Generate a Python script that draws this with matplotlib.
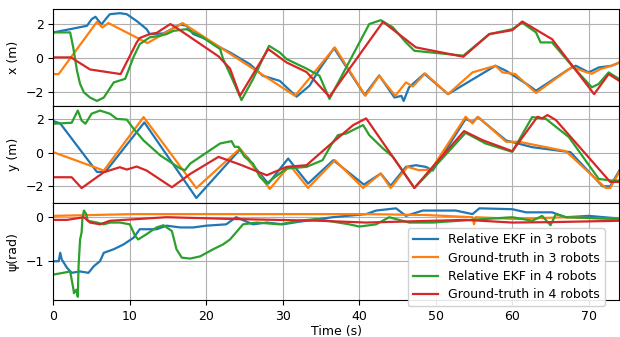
import matplotlib
matplotlib.use("Agg")
import matplotlib.pyplot as plt

labels = ["Relative EKF in 3 robots", "Ground-truth in 3 robots",
          "Relative EKF in 4 robots", "Ground-truth in 4 robots"]

# ---- x (m) ----
x_ekf3_t = [0, 2.2, 4.4, 5.0, 5.5, 6.3, 7.0, 7.4, 8.7, 9.6, 10.9, 12.2, 12.6, 14.4, 16.6, 17.4,
            18.3, 20.0, 21.8, 23.1, 25.7, 27.4, 29.6, 31.8, 33.5, 34.8, 36.7, 40.7, 42.6, 44.6,
            45.5, 45.8, 46.5, 48.5, 51.6, 57.8, 59.2, 62.2, 63.1, 67.4, 68.3, 70.0, 71.3, 73.0, 74]
x_ekf3 = [1.53, 1.72, 1.92, 2.3, 2.45, 2.0, 2.4, 2.6, 2.66, 2.6, 2.2, 1.72, 1.43, 1.47, 2.0, 1.92,
          1.43, 1.13, 0.65, 0.35, -0.34, -1.02, -1.32, -2.25, -1.6, -0.63, 0.6, -2.15, -1.0, -2.3,
          -2.2, -2.5, -1.7, -0.9, -2.1, -0.43, -0.73, -1.6, -1.9, -0.63, -0.43, -0.82, -0.53, -0.43, -0.24]

x_gt3_t = [0, 0.7, 5.7, 6.4, 7.2, 12.3, 16.9, 31.6, 36.8, 40.8, 42.6, 44.7, 46.1, 47.0, 48.6,
           51.6, 54.8, 57.8, 58.7, 60.4, 63.1, 67.8, 69.6, 70.4, 71.5, 73.0, 74]
x_gt3 = [-0.92, -0.92, 2.15, 1.82, 2.08, 0.9, 2.08, -2.2, 0.65, -2.2, -1.02, -2.2, -1.41, -1.65, -0.88,
         -2.1, -0.82, -0.43, -0.82, -0.92, -2.03, -0.5, -0.8, -0.9, -0.63, -0.43, -0.24]

x_ekf4_t = [0, 2.2, 2.6, 3.1, 3.5, 4.0, 4.8, 5.7, 6.6, 7.9, 9.4, 10.5, 11.3, 12.6, 13.9, 14.8, 15.7,
            17.4, 19.2, 21.8, 22.2, 23.5, 24.6, 26.1, 28.2, 29.6, 30.5, 33.1, 34.8, 36.1, 41.3, 42.8,
            44.4, 46.1, 47.2, 49.4, 53.6, 57.0, 60.0, 61.3, 63.1, 63.7, 65.2, 67.8, 70.4, 71.3, 72.6, 74]
x_ekf4 = [1.53, 1.53, 0.65, -0.73, -1.5, -2.0, -2.3, -2.5, -2.3, -1.41, -1.2, 0.1, 0.84, 1.24, 1.33,
          1.43, 1.62, 1.72, 1.33, 0.55, -0.04, -1.32, -2.45, -1.22, 0.74, 0.35, -0.04, -0.6, -1.02,
          -2.38, 2.02, 2.25, 1.82, 0.94, 0.45, 0.35, 0.16, 1.43, 1.72, 2.1, 1.53, 0.94, 0.94, -0.43,
          -1.7, -1.5, -0.82, -1.22]

x_gt4_t = [0, 2.3, 4.8, 8.8, 10.9, 11.3, 12.6, 13.5, 15.3, 16.1, 21.6, 23.1, 24.4, 28.1, 30.5, 33.1,
           36.1, 43.1, 47.4, 49.2, 53.6, 57.0, 60.0, 61.3, 65.2, 70.7, 72.6, 74]
x_gt4 = [0.06, 0.06, -0.65, -0.92, 0.94, 1.2, 1.43, 1.5, 2.02, 1.8, 0.12, -0.6, -2.2, 0.55, -0.24, -0.8,
         -2.25, 2.15, 0.65, 0.49, 0.1, 1.43, 1.66, 2.17, 1.13, -2.1, -0.92, -1.32]

# ---- y (m) ----
y_ekf3_t = [0, 0.9, 5.7, 6.8, 11.9, 18.7, 24.4, 25.5, 26.3, 28.1, 30.7, 33.3, 36.6, 40.6, 42.8, 44.1,
            46.1, 47.4, 48.7, 49.6, 53.9, 54.8, 55.5, 59.2, 62.6, 67.6, 71.8, 72.8, 74]
y_ekf3 = [1.9, 1.76, -1.14, -1.14, 1.82, -2.7, 0.2, -0.34, -0.84, -1.84, -0.34, -1.84, -0.44, -1.9, -1.24,
          -1.97, -0.84, -0.74, -0.84, -1.06, 2.03, 1.84, 2.14, 0.74, 0.34, 0.04, -2.0, -2.0, -1.06]

y_gt3_t = [0, 6.6, 11.8, 18.7, 24.4, 28.3, 30.5, 31.1, 33.3, 36.8, 40.5, 42.8, 44.1, 46.3, 47.8, 49.4,
           53.9, 54.8, 55.5, 59.2, 60.9, 67.0, 72.2, 72.8, 74]
y_gt3 = [0.04, -1.06, 2.14, -2.11, 0.26, -2.16, -0.96, -0.84, -2.1, -0.44, -2.1, -1.24, -2.1, -0.84,
         -1.04, -1.0, 2.16, 1.76, 2.16, 0.66, 0.66, 0.1, -2.1, -2.1, -1.14]

y_ekf4_t = [0, 2.4, 3.2, 3.7, 4.2, 5.0, 6.1, 7.4, 8.3, 9.6, 10.5, 11.8, 14.0, 16.6, 17.2, 17.9, 21.8,
            23.3, 23.7, 24.2, 25.0, 26.1, 27.0, 27.9, 28.7, 30.5, 33.1, 35.2, 36.3, 37.2, 38.3, 39.6,
            40.5, 41.3, 43.1, 44.4, 47.2, 49.6, 53.9, 56.5, 60.0, 62.6, 64.4, 67.4, 71.3, 73.0, 74]
y_ekf4 = [1.74, 1.8, 2.53, 1.93, 1.74, 2.34, 2.53, 2.34, 2.03, 1.99, 1.44, 0.74, -0.16, -0.94, -1.04,
          -0.64, 0.56, 0.7, 0.36, 0.36, -0.24, -0.64, -1.44, -1.84, -1.54, -0.94, -0.84, -0.44, 0.46,
          1.06, 1.16, 1.46, 1.66, 1.06, 0.26, -0.24, -2.1, -0.96, 1.2, 0.56, 0.06, 2.14, 2.03, 0.94,
          -1.56, -1.66, -1.66]

y_gt4_t = [0, 2.4, 3.7, 6.6, 8.7, 9.6, 10.9, 12.2, 15.5, 17.9, 21.6, 24.4, 27.9, 30.5, 33.1, 36.1,
           39.2, 40.9, 47.2, 49.2, 53.7, 56.1, 60.0, 63.3, 63.9, 64.6, 65.7, 72.8, 74]
y_gt4 = [-1.46, -1.46, -2.11, -1.16, -0.86, -1.0, -0.82, -1.06, -2.06, -1.26, -0.24, -0.7, -1.34, -0.84,
         -0.74, 0.46, 1.66, 2.06, -2.1, -1.04, 1.3, 0.76, 0.1, 2.16, 2.06, 2.26, 1.96, -1.74, -1.74]

# ---- psi (rad) ----
p_ekf3_t = [0, 0.7, 0.9, 1.1, 1.8, 2.4, 3.5, 4.6, 5.3, 6.1, 6.6, 7.9, 9.2, 10.5, 11.3, 13.5, 14.8,
            16.6, 18.3, 20.0, 22.6, 23.9, 26.1, 27.9, 30.0, 32.2, 34.8, 36.5, 40.9, 42.2, 44.8, 46.1,
            48.3, 50.5, 52.6, 54.8, 55.7, 60.0, 61.8, 65.2, 67.0, 70.0, 74]
p_ekf3 = [-1.0, -1.0, -0.81, -0.96, -1.15, -1.26, -1.23, -1.26, -1.11, -1.0, -0.81, -0.73, -0.62, -0.47,
          -0.28, -0.28, -0.2, -0.24, -0.24, -0.2, -0.17, -0.01, -0.17, -0.13, -0.17, -0.11, -0.05, -0.01,
          0.06, 0.14, 0.19, 0.02, 0.14, 0.14, 0.14, 0.06, 0.19, 0.17, 0.1, 0.1, -0.01, 0.02, -0.04]

p_gt3_t = [0, 10.5, 23.5, 34.8, 40.9, 48.7, 54.8, 55.0, 55.2, 60.5, 67.0, 74]
p_gt3 = [0.02, 0.06, 0.06, 0.06, 0.06, 0.04, -0.01, -0.17, -0.01, -0.05, -0.01, -0.05]

p_ekf4_t = [0, 1.3, 2.2, 2.6, 2.7, 3.0, 3.2, 3.3, 3.5, 3.7, 3.8, 4.0, 4.3, 4.5, 5.7, 6.6, 7.4, 8.7,
            10.0, 10.7, 11.1, 12.2, 13.5, 14.4, 15.5, 16.1, 16.8, 17.9, 19.2, 20.9, 22.2, 23.1, 23.9,
            24.8, 26.6, 29.6, 32.2, 34.4, 38.7, 40.0, 42.2, 43.9, 46.5, 49.6, 56.5, 60.0, 62.6, 63.9,
            65.0, 65.7, 67.0, 74]
p_ekf4 = [-1.3, -1.26, -1.23, -1.6, -1.72, -1.64, -1.8, -1.11, -0.51, -0.35, -0.05, 0.14, 0.06, -0.09,
          -0.13, -0.17, -0.13, -0.13, -0.17, -0.43, -0.51, -0.39, -0.24, -0.19, -0.32, -0.73, -0.92,
          -0.94, -0.89, -0.73, -0.62, -0.51, -0.35, -0.17, -0.13, -0.17, -0.09, -0.05, -0.17, -0.22,
          -0.17, -0.01, -0.13, -0.13, -0.05, -0.01, -0.09, 0.02, -0.19, 0.06, -0.01, -0.05]

p_gt4_t = [0, 1.8, 4.0, 4.8, 6.1, 7.4, 14.8, 23.5, 34.8, 40.9, 53.9, 60.0, 65.2, 74]
p_gt4 = [-0.07, -0.07, -0.01, -0.13, -0.17, -0.09, -0.01, -0.05, -0.09, -0.13, -0.07, -0.13, -0.12, -0.09]

colors = ["#1f77b4", "#ff7f0e", "#2ca02c", "#d62728"]

fig, axes = plt.subplots(3, 1, sharex=True, figsize=(6.2, 3.37), dpi=100)
fig.subplots_adjust(left=0.086, right=0.999, top=0.973, bottom=0.11, hspace=0)

panels = [
    [(x_ekf3_t, x_ekf3), (x_gt3_t, x_gt3), (x_ekf4_t, x_ekf4), (x_gt4_t, x_gt4)],
    [(y_ekf3_t, y_ekf3), (y_gt3_t, y_gt3), (y_ekf4_t, y_ekf4), (y_gt4_t, y_gt4)],
    [(p_ekf3_t, p_ekf3), (p_gt3_t, p_gt3), (p_ekf4_t, p_ekf4), (p_gt4_t, p_gt4)],
]
ylabels = ["x (m)", "y (m)", "ψ(rad)"]
ylims = [(-2.8, 2.9), (-3.0, 2.8), (-1.87, 0.31)]
yticks = [[-2, 0, 2], [-2, 0, 2], [-1, 0]]

for ax, series, yl, lim, yt in zip(axes, panels, ylabels, ylims, yticks):
    for (t, v), c, lab in zip(series, colors, labels):
        ax.plot(t, v, color=c, lw=1.6, label=lab)
    ax.set_ylabel(yl, fontsize=9)
    ax.set_ylim(lim)
    ax.set_yticks(yt)
    ax.grid(True, color="#b0b0b0", lw=0.8)
    ax.tick_params(labelsize=9)

axes[2].set_xlim(0, 74)
axes[2].set_xticks([0, 10, 20, 30, 40, 50, 60, 70])
axes[2].set_xlabel("Time (s)", fontsize=9, labelpad=2)
axes[2].legend(loc="lower right", bbox_to_anchor=(0.974, -0.065), borderaxespad=0,
               fontsize=9, labelspacing=0.42, framealpha=0.9)

plt.savefig("out.png", dpi=100)
